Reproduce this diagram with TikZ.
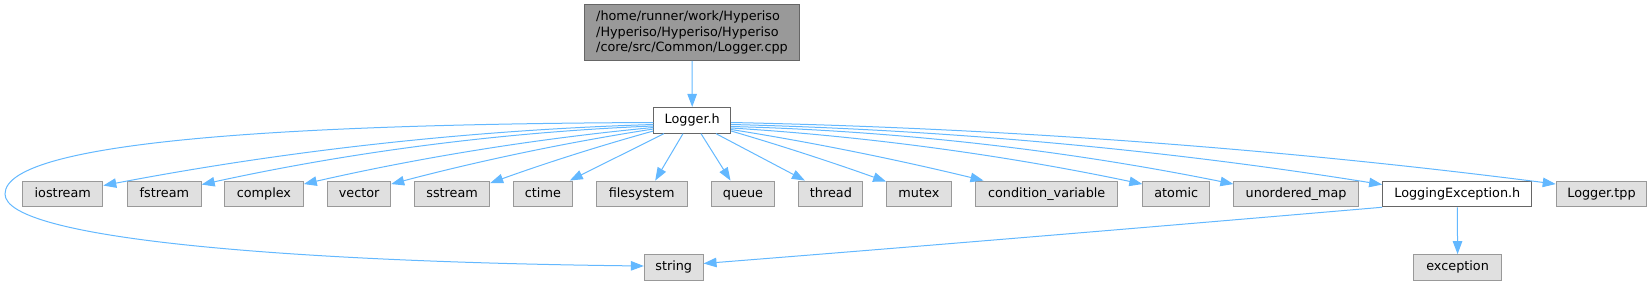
\documentclass[tikz,border=0pt]{standalone}
\usepackage{fontspec}
\setmainfont{DejaVu Sans}
\usetikzlibrary{arrows.meta,calc}
\definecolor{edgeblue}{HTML}{63B8FF}
\definecolor{sysfill}{HTML}{E0E0E0}
\definecolor{sysdraw}{HTML}{999999}
\definecolor{rootfill}{HTML}{999999}
\definecolor{darkdraw}{HTML}{666666}
\begin{document}
\begin{tikzpicture}[x=1pt,y=-1pt,
  base/.style={rectangle, inner sep=0pt, line width=1pt, minimum height=25.7pt,
    text height=9.4pt, text depth=2.9pt, font=\fontsize{12.8pt}{15.3pt}\selectfont},
  sysbox/.style={base, fill=sysfill, draw=sysdraw},
  filebox/.style={base, fill=white, draw=darkdraw},
  rootbox/.style={rectangle, inner sep=0pt, line width=1pt, fill=rootfill, draw=darkdraw,
    align=left, font=\fontsize{12.8pt}{15.3pt}\selectfont, minimum width=215pt, minimum height=55.6pt},
  edge/.style={draw=edgeblue, line width=1pt, -{Triangle[length=13pt,width=9.5pt]}}
]
\path[use as bounding box] (0,0) rectangle (1652,285);

\node[rootbox] (root) at (692,32.5) {/home/runner/work/Hyperiso\\/Hyperiso/Hyperiso/Hyperiso\\/core/src/Common/Logger.cpp};
\node[filebox, minimum width=76.8pt] (logger) at (692.2,120.3) {Logger.h};

\node[sysbox, minimum width=80pt] (iostream) at (62.8,193.9) {iostream};
\node[sysbox, minimum width=73.6pt] (fstream) at (164.4,193.9) {fstream};
\node[sysbox, minimum width=78.8pt] (complex) at (263.9,193.9) {complex};
\node[sysbox, minimum width=63pt] (vector) at (359.2,193.9) {vector};
\node[sysbox, minimum width=75.2pt] (sstream) at (452.1,193.9) {sstream};
\node[sysbox, minimum width=58.8pt] (ctime) at (542.9,193.9) {ctime};
\node[sysbox, minimum width=91.1pt] (filesystem) at (641.7,193.9) {filesystem};
\node[sysbox, minimum width=63pt] (queue) at (743,193.9) {queue};
\node[sysbox, minimum width=63.9pt] (thread) at (830.9,193.9) {thread};
\node[sysbox, minimum width=64.6pt] (mutex) at (918.9,193.9) {mutex};
\node[sysbox, minimum width=142.4pt] (condvar) at (1046.7,193.9) {condition\_variable};
\node[sysbox, minimum width=66.7pt] (atomic) at (1176.2,193.9) {atomic};
\node[sysbox, minimum width=124.4pt] (umap) at (1296.1,193.9) {unordered\_map};
\node[filebox, minimum width=149.3pt] (logexc) at (1457.3,193.9) {LoggingException.h};
\node[sysbox, minimum width=90.6pt] (tpp) at (1601.5,193.9) {Logger.tpp};
\node[sysbox, minimum width=58.7pt] (string) at (673.7,267.5) {string};
\node[sysbox, minimum width=87.3pt] (exception) at (1457.6,267.5) {exception};

\draw[edge] (root.south) -- (logger.north);

\draw[edge] ($(logger.west)+(0,2.2)$) .. controls (300,124) and (5,140) .. (5,194)
  .. controls (5,240) and (300,262) .. ($(string.west)+(0,-1.5)$);
\draw[edge] ($(logger.west)+(0,4.2)$) .. controls (470.2,130) and (286.6,150.5) .. ($(iostream.north east)+(0,5)$);
\draw[edge] ($(logger.west)+(0,5.7)$) .. controls (502.9,132.1) and (352.1,151.7) .. ($(fstream.north east)+(0,4)$);
\draw[edge] ($(logger.west)+(0,7.2)$) .. controls (537,138.5) and (420.1,157.5) .. ($(complex.north east)+(0,3.5)$);
\draw[edge] ($(logger.west)+(0,8.7)$) .. controls (566.1,142.5) and (478.4,161) .. ($(vector.north east)+(0,3.5)$);
\draw[edge] ($(logger.west)+(0,10.7)$) .. controls (599.1,146) and (544.4,163.5) .. ($(sstream.north east)+(0,2.5)$);
\draw[edge] ($(logger.south)+(-28.2,0)$) -- ($(ctime.north east)+(-3,0)$);
\draw[edge] ($(logger.south)+(-9.2,0)$) -- ($(filesystem.north)+(13.5,0)$);
\draw[edge] ($(logger.south)+(8.8,0)$) -- ($(queue.north)+(-12.5,0)$);
\draw[edge] ($(logger.south)+(23.8,0)$) -- ($(thread.north)+(-26,0)$);
\draw[edge] ($(logger.east)+(0,10.7)$) .. controls (782.4,146) and (834.2,163) .. ($(mutex.north west)+(0,1)$);
\draw[edge] ($(logger.east)+(0,9.2)$) .. controls (815.1,142.8) and (899.5,160.2) .. ($(condvar.north west)+(8.5,0)$);
\draw[edge] ($(logger.east)+(0,7.7)$) .. controls (868,136.4) and (1005.4,155.3) .. ($(atomic.north west)+(0,3.5)$);
\draw[edge] ($(logger.east)+(0,6.2)$) .. controls (898.4,130.8) and (1066.1,150.2) .. ($(umap.north west)+(0,3.5)$);
\draw[edge] ($(logger.east)+(0,4.2)$) .. controls (948,129.7) and (1165.3,149.8) .. ($(logexc.north west)+(0,4)$);
\draw[edge] ($(logger.east)+(0,2.2)$) .. controls (1005.8,128.2) and (1281,148.8) .. ($(tpp.north west)+(0,3.5)$);

\draw[edge] (logexc.south west) .. controls (1156,226.6) and (929.5,245.6) .. ($(string.east)+(0,-4)$);
\draw[edge] (logexc.south) -- (exception.north);
\end{tikzpicture}
\end{document}
